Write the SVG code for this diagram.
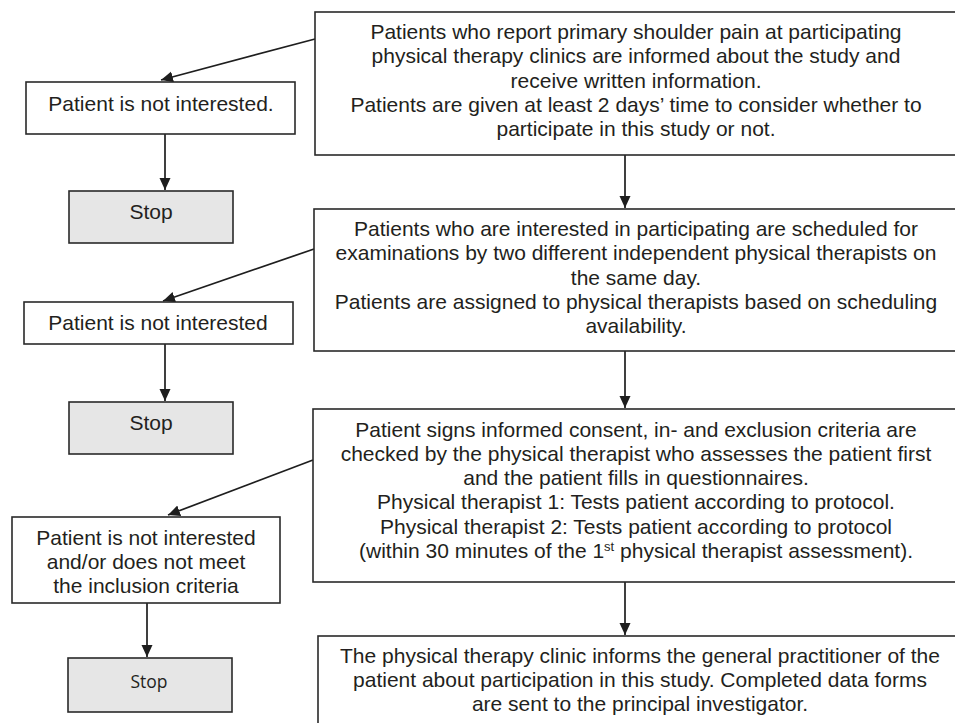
<svg xmlns="http://www.w3.org/2000/svg" width="955" height="723" viewBox="0 0 955 723">
<style>
  .box { fill: #ffffff; stroke: #2a2a2a; stroke-width: 1.6; }
  .stop { fill: #e6e6e6; stroke: #2a2a2a; stroke-width: 1.6; }
  .t { font-family: "Liberation Sans", Arial, sans-serif; font-size: 21px; fill: #231f20; text-anchor: middle; }
  .t2 { font-family: "Open Sans", "Liberation Sans", sans-serif; font-size: 17.5px; fill: #231f20; text-anchor: middle; }
  .c { stroke: #1e1e1e; stroke-width: 1.7; fill: none; marker-end: url(#ah); }
</style>
<defs>
  <marker id="ah" markerUnits="userSpaceOnUse" markerWidth="13" markerHeight="12" refX="12" refY="5.5" orient="auto">
    <path d="M0,0 L12,5.5 L0,11 Z" fill="#1e1e1e"/>
  </marker>
</defs>
<rect width="955" height="723" fill="#ffffff"/>

<g id="connectors">
  <line class="c" x1="315" y1="39" x2="161" y2="80"/>
  <line class="c" x1="165" y1="134" x2="165" y2="190"/>
  <line class="c" x1="314" y1="249" x2="163" y2="301"/>
  <line class="c" x1="165" y1="344" x2="165" y2="401"/>
  <line class="c" x1="313" y1="460" x2="168" y2="515"/>
  <line class="c" x1="147" y1="603" x2="147" y2="657"/>
  <line class="c" x1="625" y1="155" x2="625" y2="208"/>
  <line class="c" x1="625" y1="351" x2="625" y2="408"/>
  <line class="c" x1="625" y1="582" x2="625" y2="635"/>
</g>

<g id="step1">
  <rect class="box" x="315" y="12" width="660" height="143"/>
  <text class="t" x="636" y="39">Patients who report primary shoulder pain at participating</text>
  <text class="t" x="636" y="63.3">physical therapy clinics are informed about the study and</text>
  <text class="t" x="636" y="87.6">receive written information.</text>
  <text class="t" x="636" y="112">Patients are given at least 2 days’ time to consider whether to</text>
  <text class="t" x="636" y="136.3">participate in this study or not.</text>
</g>

<g id="step2">
  <rect class="box" x="314" y="209" width="660" height="142"/>
  <text class="t" x="636" y="236">Patients who are interested in participating are scheduled for</text>
  <text class="t" x="636" y="260.3">examinations by two different independent physical therapists on</text>
  <text class="t" x="636" y="284.6">the same day.</text>
  <text class="t" x="636" y="309">Patients are assigned to physical therapists based on scheduling</text>
  <text class="t" x="636" y="333.3">availability.</text>
</g>

<g id="step3">
  <rect class="box" x="313" y="409" width="660" height="173"/>
  <text class="t" x="636" y="436.5">Patient signs informed consent, in- and exclusion criteria are</text>
  <text class="t" x="636" y="460.8">checked by the physical therapist who assesses the patient first</text>
  <text class="t" x="636" y="485">and the patient fills in questionnaires.</text>
  <text class="t" x="636" y="509.3">Physical therapist 1: Tests patient according to protocol.</text>
  <text class="t" x="636" y="533.6">Physical therapist 2: Tests patient according to protocol</text>
  <text class="t" x="636" y="558">(within 30 minutes of the 1<tspan font-size="13" dy="-7">st</tspan><tspan dy="7"> physical therapist assessment).</tspan></text>
</g>

<g id="step4">
  <rect class="box" x="318" y="636" width="660" height="120"/>
  <text class="t" x="640" y="663">The physical therapy clinic informs the general practitioner of the</text>
  <text class="t" x="640" y="687">patient about participation in this study. Completed data forms</text>
  <text class="t" x="640" y="711">are sent to the principal investigator.</text>
</g>

<g id="notinterested1">
  <rect class="box" x="26" y="82" width="269" height="52"/>
  <text class="t" x="161" y="111">Patient is not interested.</text>
</g>
<g id="stop1">
  <rect class="stop" x="69" y="191" width="164" height="52"/>
  <text class="t" x="151" y="219">Stop</text>
</g>

<g id="notinterested2">
  <rect class="box" x="24" y="302" width="269" height="42"/>
  <text class="t" x="158" y="330">Patient is not interested</text>
</g>
<g id="stop2">
  <rect class="stop" x="69" y="402" width="164" height="52"/>
  <text class="t" x="151" y="430">Stop</text>
</g>

<g id="notinterested3">
  <rect class="box" x="12" y="517" width="268" height="86"/>
  <text class="t" x="146" y="545">Patient is not interested</text>
  <text class="t" x="146" y="569">and/or does not meet</text>
  <text class="t" x="146" y="593">the inclusion criteria</text>
</g>
<g id="stop3">
  <rect class="stop" x="68" y="658" width="164" height="54"/>
  <text class="t2" x="149" y="688">Stop</text>
</g>
</svg>
